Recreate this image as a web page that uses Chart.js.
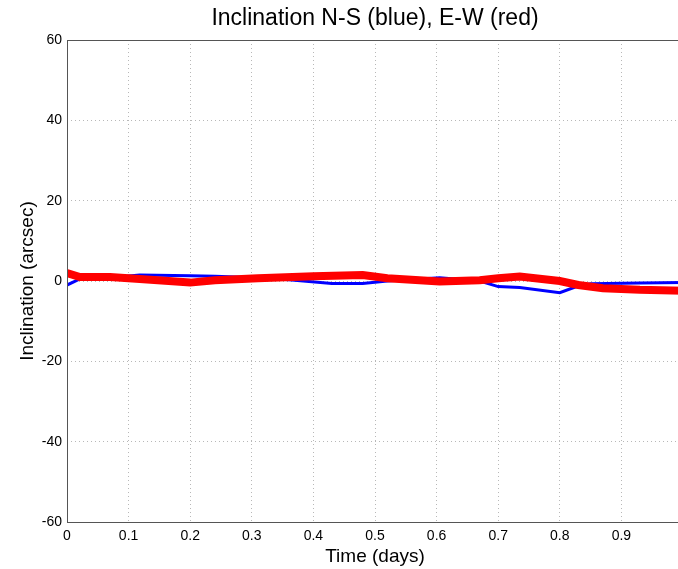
<!DOCTYPE html>
<html>
<head>
<meta charset="utf-8">
<script src="https://cdn.jsdelivr.net/npm/chart.js@4"></script>
<style>
html,body{margin:0;padding:0;background:#fff;overflow:hidden;}
canvas{display:block;}
</style>
</head>
<body>
<canvas id="incChart" width="690" height="569"></canvas>
<script>
// N-S inclination (blue)
const timeNS = [0, 0.021, 0.07, 0.118, 0.2, 0.24, 0.31, 0.36, 0.43, 0.48, 0.52, 0.605, 0.67, 0.70, 0.735, 0.80, 0.825, 0.85, 0.93, 1.0];
const incNS  = [-1, 0.5, 0.8, 1.5, 1.3, 1.2, 0.8, 0.3, -0.6, -0.6, 0, 0.8, 0, -1.4, -1.6, -2.9, -1.5, -0.7, -0.5, -0.4];
// E-W inclination (red)
const timeEW = [0, 0.021, 0.07, 0.118, 0.2, 0.24, 0.31, 0.4, 0.48, 0.52, 0.605, 0.67, 0.70, 0.735, 0.8, 0.83, 0.87, 0.93, 1.0];
const incEW  = [2, 1, 1, 0.5, -0.4, 0.2, 0.7, 1.2, 1.5, 0.7, -0.1, 0.2, 0.7, 1.1, 0, -1, -1.8, -2.2, -2.4];

const xTicks = [0, 0.1, 0.2, 0.3, 0.4, 0.5, 0.6, 0.7, 0.8, 0.9, 1];
const yTicks = [-60, -40, -20, 0, 20, 40, 60];

const toPoints = (xs, ys) => xs.map((x, i) => ({x: x, y: ys[i]}));

const boxPlugin = {
    id: "box",
    afterDraw(chart){
        const a = chart.chartArea, ctx = chart.ctx;
        ctx.save();
        ctx.strokeStyle = "#555";
        ctx.lineWidth = 1;
        ctx.strokeRect(a.left + 0.5, a.top + 0.5, a.right - a.left, a.bottom - a.top);
        ctx.restore();
    }
};

const font = "'Liberation Sans', Arial, sans-serif";

new Chart(document.getElementById("incChart"), {
    type: "line",
    data: {
        datasets: [{
            label: "E-W",
            data: toPoints(timeEW, incEW),
            borderColor: "#ff0000",
            borderWidth: 8,
            pointRadius: 0,
            tension: 0,
            order: 1
        },{
            label: "N-S",
            data: toPoints(timeNS, incNS),
            borderColor: "#0000ff",
            borderWidth: 3,
            pointRadius: 0,
            tension: 0,
            order: 2
        }]
    },
    options: {
        responsive: false,
        animation: false,
        layout: { padding: { left: 0, right: 7, top: 0, bottom: 0 } },
        plugins: {
            legend: { display: false },
            tooltip: { enabled: false },
            title: {
                display: true,
                text: "Inclination N-S (blue), E-W (red)",
                fullSize: false,
                color: "#000",
                font: { family: font, size: 23, weight: "normal" },
                padding: { top: 5, bottom: 7.4 }
            }
        },
        scales: {
            x: {
                type: "linear",
                min: 0, max: 1,
                afterBuildTicks: s => { s.ticks = xTicks.map(v => ({value: v})); },
                afterFit: s => { s.height = 47; },
                ticks: {
                    color: "#000",
                    font: { family: font, size: 14 },
                    padding: 6,
                    maxRotation: 0,
                    callback: v => v === 1 ? "" : String(v)
                },
                grid: { color: "#b8b8b8", drawTicks: false },
                border: { display: false, dash: [1, 3] },
                title: {
                    display: true,
                    text: "Time (days)",
                    color: "#000",
                    font: { family: font, size: 19 },
                    padding: { top: 0, bottom: 1 }
                }
            },
            y: {
                min: -60, max: 60,
                afterBuildTicks: s => { s.ticks = yTicks.map(v => ({value: v})); },
                afterFit: s => { s.width = 67; },
                ticks: {
                    color: "#000",
                    font: { family: font, size: 14 },
                    padding: 5
                },
                grid: { color: "#b8b8b8", drawTicks: false },
                border: { display: false, dash: [1, 3] },
                title: {
                    display: true,
                    text: "Inclination (arcsec)",
                    color: "#000",
                    font: { family: font, size: 19 },
                    padding: { top: 16, bottom: 0 }
                }
            }
        }
    },
    plugins: [boxPlugin]
});
</script>
</body>
</html>
